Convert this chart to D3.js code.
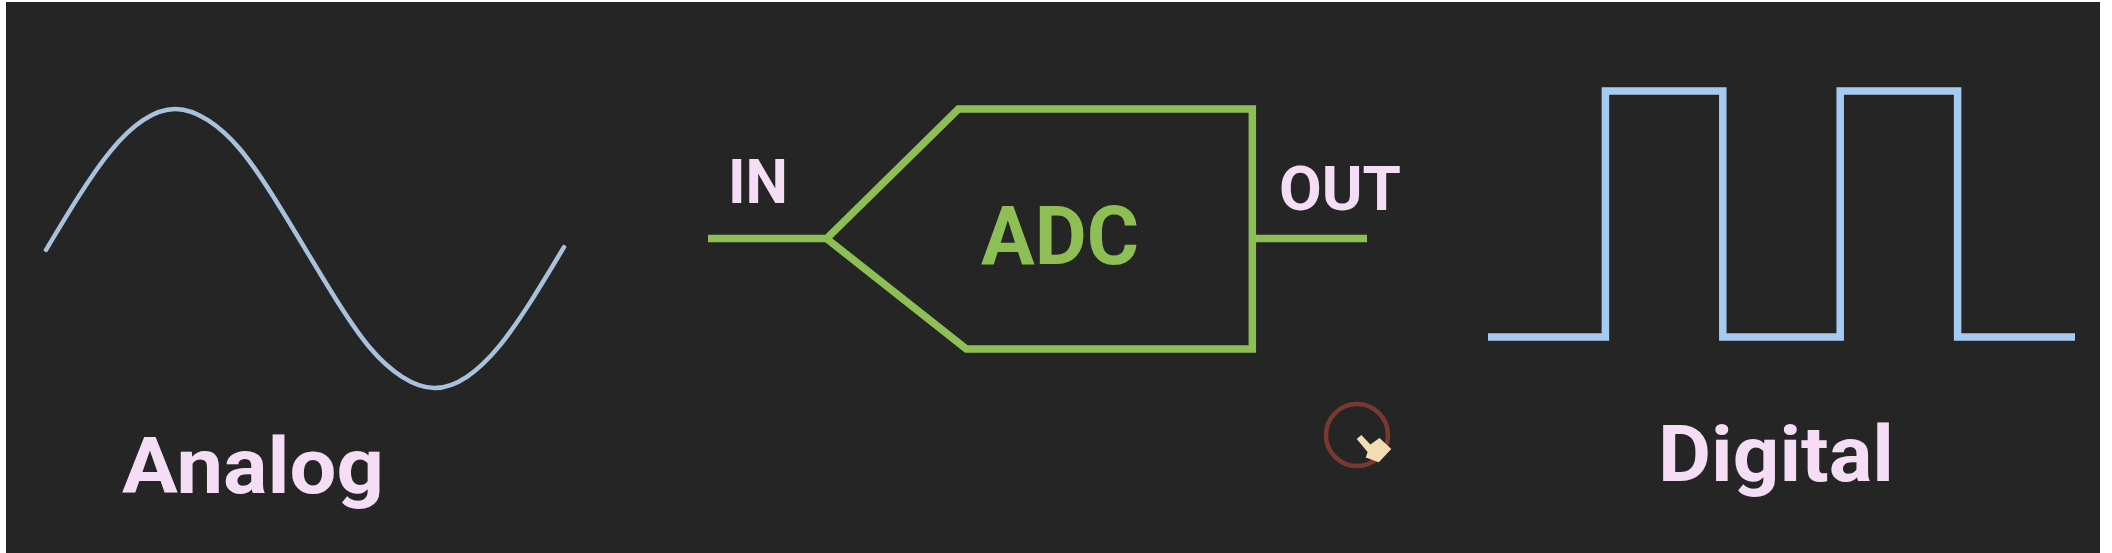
<!DOCTYPE html>
<html>
<head>
<meta charset="utf-8">
<script src="https://cdn.jsdelivr.net/npm/d3@7"></script>
<style>
  html, body { margin: 0; padding: 0; background: #fff; }
  svg { display: block; }
  text { font-family: Roboto, "Open Sans", sans-serif; font-weight: 700; }
</style>
</head>
<body>
<svg id="chart" width="2112" height="553"></svg>
<script>
const analogT = [0, 1, 2, 3, 4, 5, 6, 7, 8, 9, 10, 11, 12, 13, 14, 15, 16];
const analogV = [-0.01, 0.37, 0.7, 0.92, 1, 0.92, 0.71, 0.38, 0, -0.38, -0.71, -0.92, -1, -0.92, -0.7, -0.37, 0.01];

// digital wave: level after each edge
const digitalT = [0, 1, 2, 3, 4, 5];
const digitalV = [0, 1, 0, 1, 0, 0];

// ADC block in schematic units (x: 0..100 along the wire, y: 0 bottom .. 1 top)
const adcOutline = [[18, 0.46], [38, 1], [82.6, 1], [82.6, 0], [39.2, 0], [18, 0.46]];
const inWire = [[0, 0.46], [18, 0.46]];
const outWire = [[82.6, 0.46], [100, 0.46]];

const labels = ["Analog", "IN", "ADC", "OUT", "Digital"];

const W = 2112, H = 553;
const BG = "#252525";
const PINK = "#f5ddf5";
const GREEN = "#8dbf55";

const svg = d3.select("#chart");

svg.append("rect")
  .attr("x", 6).attr("y", 2)
  .attr("width", 2094).attr("height", H - 2)
  .attr("fill", BG);

// --- analog ---
const xA = d3.scaleLinear().domain([0, 16]).range([46, 564]);
const yA = d3.scaleLinear().domain([-1, 1]).range([388, 109]);

svg.append("path")
  .datum(d3.zip(analogT, analogV))
  .attr("fill", "none")
  .attr("stroke", "#a8c2de")
  .attr("stroke-width", 4.5)
  .attr("stroke-linecap", "round")
  .attr("d", d3.line().x(d => xA(d[0])).y(d => yA(d[1])).curve(d3.curveNatural));

// --- ADC block ---
const xS = d3.scaleLinear().domain([0, 100]).range([708, 1367]);
const yS = d3.scaleLinear().domain([0, 1]).range([349, 109]);
const schem = d3.line().x(d => xS(d[0])).y(d => yS(d[1]));

[adcOutline, inWire, outWire].forEach(pts => {
  svg.append("path")
    .datum(pts)
    .attr("fill", "none")
    .attr("stroke", GREEN)
    .attr("stroke-width", 7.5)
    .attr("stroke-linejoin", "miter")
    .attr("d", schem);
});

// --- digital ---
const xD = d3.scaleLinear().domain([0, 5]).range([1488, 2075]);
const yD = d3.scaleLinear().domain([0, 1]).range([337, 91]);

svg.append("path")
  .datum(d3.zip(digitalT, digitalV))
  .attr("fill", "none")
  .attr("stroke", "#a6cbf2")
  .attr("stroke-width", 7.5)
  .attr("stroke-linejoin", "miter")
  .attr("d", d3.line().x(d => xD(d[0])).y(d => yD(d[1])).curve(d3.curveStepAfter));

// --- labels ---
const label = (txt, x, y, size, len, fill) =>
  svg.append("text")
    .attr("x", x).attr("y", y)
    .attr("text-anchor", "middle")
    .attr("font-size", size)
    .attr("textLength", len)
    .attr("lengthAdjust", "spacingAndGlyphs")
    .attr("fill", fill)
    .text(txt);

label(labels[0], 253, 493, 78, 262, PINK);
label(labels[1], 758, 203, 61, 60, PINK);
label(labels[2], 1060, 264, 81, 158, GREEN);
label(labels[3], 1340, 210, 61, 122, PINK);
label(labels[4], 1776, 481, 78, 236, PINK);

// --- mouse pointer highlight ---
svg.append("circle")
  .attr("cx", 1357).attr("cy", 435).attr("r", 31)
  .attr("fill", "none")
  .attr("stroke", "#7a3833")
  .attr("stroke-width", 4.5);

svg.append("path")
  .attr("transform", "translate(1359,437) rotate(-40)")
  .attr("fill", "#f3dcb2")
  .attr("d", "M-3,0 L3,0 L4,13 L15,14 L17,30 L-1,32 L-8,20 L-3,17 Z");
</script>
</body>
</html>
